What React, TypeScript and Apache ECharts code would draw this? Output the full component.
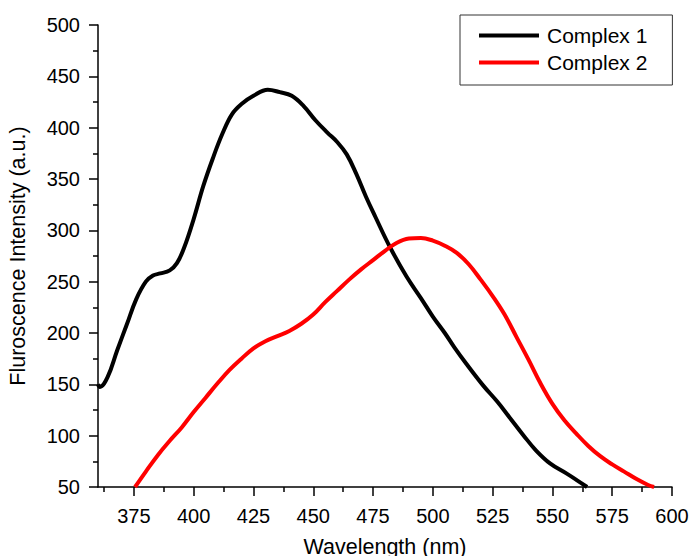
import React, { useEffect, useRef } from "react";
import * as echarts from "echarts";

const c1X = [360, 360.8, 364, 368, 372, 376, 380, 383, 386, 390, 393, 396, 400, 404, 408, 412, 416, 420, 425, 431, 436, 441, 446, 451, 456, 460, 464, 468, 472, 476, 482, 489, 495, 500, 505, 509, 514, 521, 527, 532, 538, 543, 549, 556, 560, 564.5];
const c1Y = [150, 147.5, 157, 183, 208, 233, 250, 256, 258, 261, 268, 283, 311, 343, 370, 394, 413, 423, 431, 437, 434.6, 431, 421, 407, 395, 386, 374, 355, 333, 313, 284, 255, 234, 216, 200, 186, 170, 149, 133, 118, 100, 86, 73, 63, 57, 50];
const c2X = [375.5, 380, 385, 390, 395, 400, 405, 410, 415, 420, 425, 430, 435, 440, 445, 450, 455, 460, 465, 470, 475, 480, 485, 490, 495, 500, 505, 510, 515, 520, 525, 530, 535, 540, 545, 550, 555, 560, 565, 570, 575, 580, 585, 590, 592.5];
const c2Y = [50, 65, 81, 95, 108, 123, 137, 151, 164, 175, 185, 192, 197, 202, 209, 218, 230, 241, 252, 262, 271, 280, 288, 292, 292.5, 290, 285, 278, 267, 252, 236, 218, 196, 174, 151, 131, 115, 102, 90, 80, 72, 65, 58, 52, 50];
const xMajorTicks = [375, 400, 425, 450, 475, 500, 525, 550, 575, 600];
const xMinorTicks = [362.5, 387.5, 412.5, 437.5, 462.5, 487.5, 512.5, 537.5, 562.5, 587.5];
const seriesNames = ["Complex 1", "Complex 2"];

const FONT = "Liberation Sans, Arial, sans-serif";

export default function App() {
  const ref = useRef<HTMLDivElement>(null);
  useEffect(() => {
    if (!ref.current) return;
    const chart = echarts.init(ref.current, null, { renderer: "svg" });
    const axisLine = { show: true, lineStyle: { color: "#000", width: 1.5 } };
    chart.setOption({
      animation: false,
      backgroundColor: "#fff",
      grid: { left: 98, right: 19, top: 25, bottom: 69, containLabel: false, outerBoundsMode: "none" },
      legend: {
        orient: "vertical",
        left: 460,
        top: 15,
        data: seriesNames,
        icon: "rect",
        itemWidth: 60,
        itemHeight: 4,
        itemGap: 6,
        borderColor: "#333",
        borderWidth: 1,
        padding: [10, 25, 12, 19],
        textStyle: { fontFamily: FONT, fontSize: 21, color: "#000", lineHeight: 21, padding: [0, 0, 0, 3] },
      },
      xAxis: [
        {
          type: "value",
          min: 360,
          max: 600,
          name: "Wavelength (nm)",
          nameLocation: "middle",
          nameGap: 49,
          nameTextStyle: { fontFamily: FONT, fontSize: 21.5, color: "#000" },
          axisLine,
          axisTick: { show: true, inside: false, length: 9, customValues: xMajorTicks, lineStyle: { color: "#000", width: 1.5 } },
          axisLabel: { customValues: xMajorTicks, fontFamily: FONT, fontSize: 20, color: "#000", margin: 19 },
          splitLine: { show: false },
        },
        {
          type: "value",
          min: 360,
          max: 600,
          position: "bottom",
          axisLine: { show: false },
          axisTick: { show: true, inside: false, length: 5, customValues: xMinorTicks, lineStyle: { color: "#000", width: 1.5 } },
          axisLabel: { show: false },
          splitLine: { show: false },
        },
      ],
      yAxis: {
        type: "value",
        min: 50,
        max: 500,
        interval: 50,
        name: "Fluroscence Intensity (a.u.)",
        nameLocation: "middle",
        nameGap: 69,
        nameTextStyle: { fontFamily: FONT, fontSize: 21.5, color: "#000" },
        axisLine,
        axisTick: { show: true, inside: false, length: 9, lineStyle: { color: "#000", width: 1.5 } },
        minorTick: { show: true, splitNumber: 2, length: 5, lineStyle: { color: "#000", width: 1.5 } },
        axisLabel: { fontFamily: FONT, fontSize: 20, color: "#000", margin: 18 },
        splitLine: { show: false },
      },
      series: [
        {
          name: seriesNames[0],
          type: "line",
          xAxisIndex: 0,
          data: c1X.map((x, i) => [x, c1Y[i]]),
          smooth: 0.4,
          showSymbol: false,
          lineStyle: { color: "#000", width: 4 },
          itemStyle: { color: "#000" },
        },
        {
          name: seriesNames[1],
          type: "line",
          xAxisIndex: 0,
          data: c2X.map((x, i) => [x, c2Y[i]]),
          smooth: 0.4,
          showSymbol: false,
          lineStyle: { color: "#ff0000", width: 4 },
          itemStyle: { color: "#ff0000" },
        },
      ],
    });
    return () => chart.dispose();
  }, []);
  return <div ref={ref} style={{ width: 691, height: 556, position: "absolute", left: 0, top: 0 }} />;
}
